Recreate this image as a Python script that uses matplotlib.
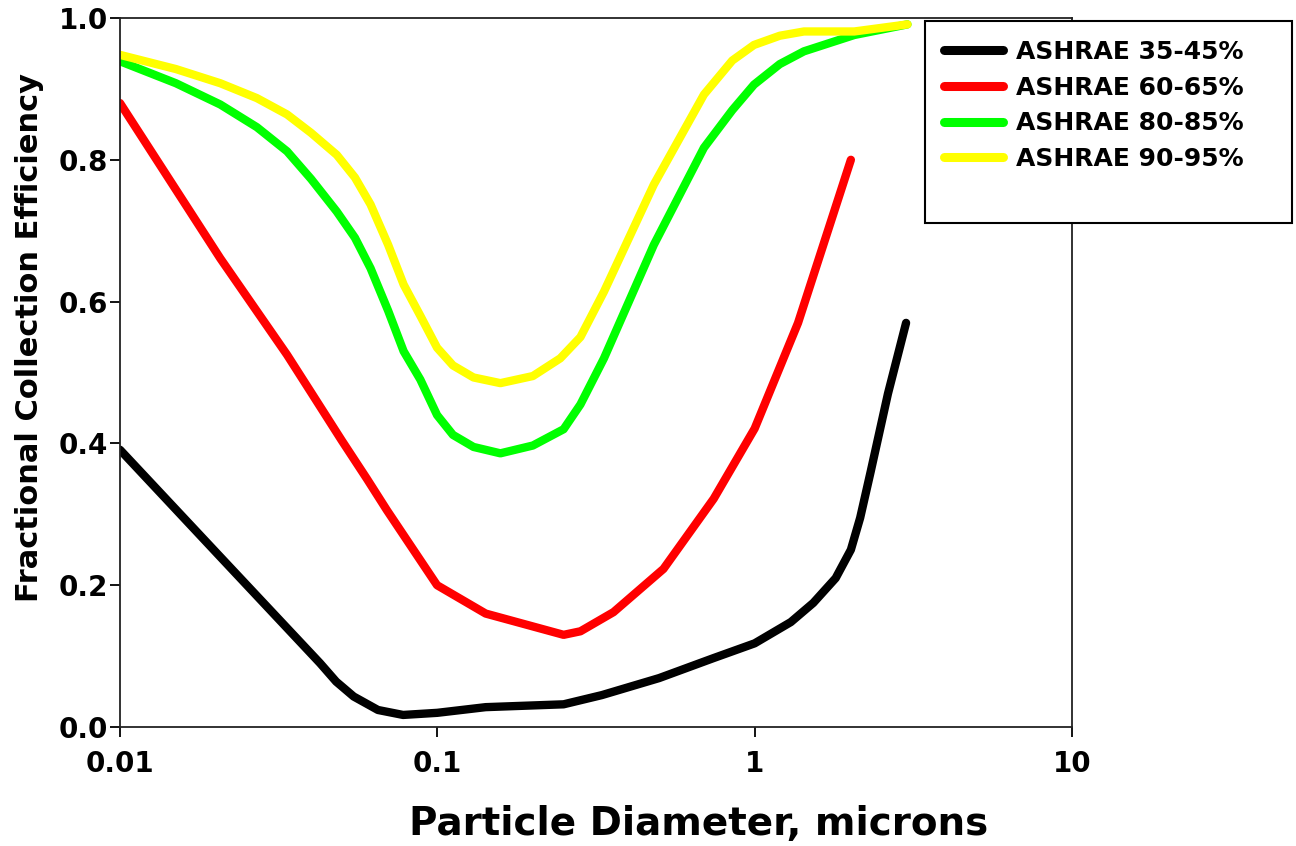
import matplotlib.pyplot as plt
from matplotlib.patches import Rectangle
from matplotlib.ticker import FixedLocator, FixedFormatter, NullLocator

plt.rcParams['font.family'] = ['DejaVu Sans']
plt.rcParams['font.weight'] = 'bold'

# Diâmetros (microns) e eficiências
d_35 = [0.01, 0.0207, 0.0427, 0.048, 0.0545, 0.065, 0.078, 0.1, 0.142, 0.25, 0.33, 0.5, 0.74, 1.0, 1.3, 1.53, 1.8, 2.01, 2.15, 2.32, 2.63, 3.0]
e_35 = [0.391, 0.24, 0.09, 0.064, 0.043, 0.024, 0.017, 0.02, 0.028, 0.032, 0.045, 0.069, 0.097, 0.118, 0.148, 0.175, 0.21, 0.25, 0.295, 0.36, 0.47, 0.57]

d_60 = [0.01, 0.0207, 0.0336, 0.04, 0.05, 0.06, 0.0693, 0.0998, 0.142, 0.25, 0.2825, 0.359, 0.516, 0.743, 1.0, 1.37, 2.01]
e_60 = [0.88, 0.661, 0.525, 0.472, 0.404, 0.35, 0.306, 0.20, 0.16, 0.13, 0.135, 0.162, 0.223, 0.322, 0.421, 0.57, 0.80]

d_80 = [0.01, 0.015, 0.0207, 0.027, 0.0336, 0.04, 0.0482, 0.055, 0.0616, 0.07, 0.0783, 0.0884, 0.0998, 0.112, 0.13, 0.158, 0.2, 0.25, 0.2825, 0.335, 0.481, 0.692, 0.85, 0.995, 1.2, 1.43, 2.06, 3.03]
e_80 = [0.939, 0.908, 0.878, 0.846, 0.812, 0.773, 0.727, 0.69, 0.647, 0.587, 0.53, 0.49, 0.44, 0.412, 0.395, 0.386, 0.397, 0.42, 0.455, 0.52, 0.68, 0.817, 0.87, 0.906, 0.935, 0.953, 0.976, 0.991]

d_90 = [0.01, 0.015, 0.0207, 0.027, 0.0336, 0.04, 0.0482, 0.055, 0.0616, 0.07, 0.0783, 0.0884, 0.0998, 0.112, 0.13, 0.158, 0.2, 0.244, 0.2825, 0.335, 0.481, 0.692, 0.85, 0.995, 1.2, 1.43, 2.06, 3.03]
e_90 = [0.948, 0.928, 0.908, 0.887, 0.864, 0.838, 0.807, 0.775, 0.737, 0.68, 0.624, 0.58, 0.535, 0.51, 0.493, 0.485, 0.495, 0.52, 0.55, 0.614, 0.765, 0.892, 0.94, 0.962, 0.975, 0.981, 0.981, 0.991]

rotulos = ['ASHRAE 35-45%', 'ASHRAE 60-65%', 'ASHRAE 80-85%', 'ASHRAE 90-95%']
cores = ['#000000', '#ff0000', '#00ff00', '#ffff00']

x_ticks = [0.01, 0.1, 1, 10]
x_rotulos = ['0.01', '0.1', '1', '10']
y_ticks = [0.0, 0.2, 0.4, 0.6, 0.8, 1.0]

W, H = 1296, 846
fig = plt.figure(figsize=(W / 100, H / 100), dpi=100)
ax = fig.add_axes([120 / W, 1 - 727 / H, 952 / W, 709 / H])

series = [(d_35, e_35), (d_60, e_60), (d_80, e_80), (d_90, e_90)]
for (d, e), cor, rot in zip(series, cores, rotulos):
    ax.plot(d, e, color=cor, linewidth=6, label=rot, solid_capstyle='round', solid_joinstyle='round')

ax.set_xscale('log')
ax.set_xlim(0.01, 10)
ax.set_ylim(0, 1.0)
ax.xaxis.set_major_locator(FixedLocator(x_ticks))
ax.xaxis.set_major_formatter(FixedFormatter(x_rotulos))
ax.xaxis.set_minor_locator(NullLocator())
ax.set_yticks(y_ticks)
ax.set_yticklabels(['%.1f' % v for v in y_ticks])
ax.tick_params(axis='both', direction='out', length=7.5, width=1.3, labelsize=20)
ax.tick_params(axis='x', pad=9)
ax.tick_params(axis='y', pad=1)

for sp in ax.spines.values():
    sp.set_linewidth(1.3)
    sp.set_color('#222222')

# Rótulos dos eixos (posicionados como no original)
fig.text(699 / W, 1 - 824 / H, 'Particle Diameter, microns', fontsize=28, fontweight='bold',
         ha='center', va='center')
fig.text(30 / W, 1 - 337 / H, 'Fractional Collection Efficiency', fontsize=22, fontweight='bold',
         ha='center', va='center', rotation=90)

# Caixa da legenda
caixa = Rectangle((925 / W, 1 - 223 / H), (1292 - 925) / W, (223 - 21) / H,
                  transform=fig.transFigure, facecolor='white', edgecolor='black',
                  linewidth=1.5, zorder=5)
fig.patches.append(caixa)

leg = fig.legend(loc='upper left', bbox_to_anchor=(944 / W, 1 - 40 / H), fontsize=18,
                 frameon=False, handlelength=2.35, handletextpad=0.55, borderpad=0,
                 labelspacing=0.47, borderaxespad=0)
leg.set_zorder(6)
for linha in leg.get_lines():
    linha.set_linewidth(6.5)
    linha.set_solid_capstyle('round')
for t in leg.get_texts():
    t.set_fontweight('bold')

fig.savefig('out.png', dpi=100)
